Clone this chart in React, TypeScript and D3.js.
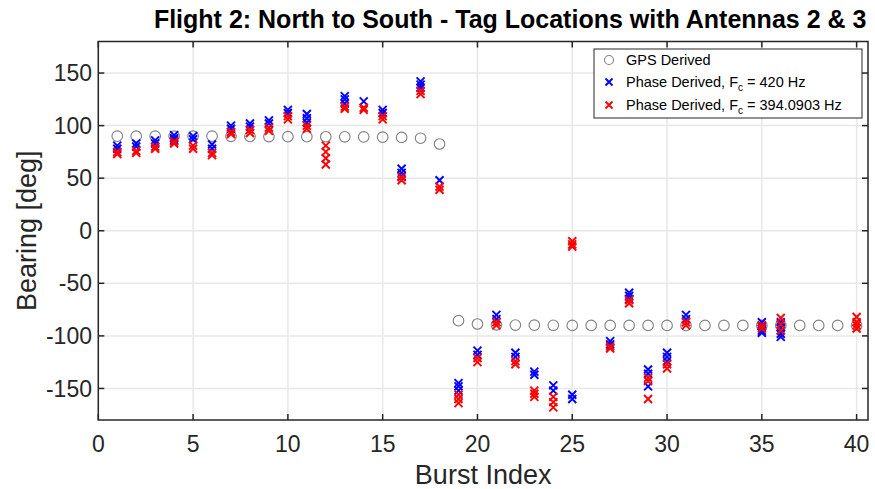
import React from "react";
import * as d3 from "d3";

const TITLE = "Flight 2: North to South - Tag Locations with Antennas 2 & 3";
const X_LABEL = "Burst Index";
const Y_LABEL = "Bearing [deg]";
const xTicks = [0, 5, 10, 15, 20, 25, 30, 35, 40];
const yTicks = [-150, -100, -50, 0, 50, 100, 150];

const bursts = [
  1, 2, 3, 4, 5, 6, 7, 8, 9, 10, 11, 12, 13, 14, 15, 16, 17, 18, 19, 20,
  21, 22, 23, 24, 25, 26, 27, 28, 29, 30, 31, 32, 33, 34, 35, 36, 37, 38, 39, 40,
];

const gpsBearing = [
  90, 90, 90, 90, 90, 90, 89.8, 89.7, 89.6, 89.5, 89.5, 89.4, 89.3, 89.2, 89, 88.8, 88, 82.5, -85.5, -88.7,
  -89.5, -89.7, -89.8, -89.9, -90, -90, -90, -90, -90, -90, -90, -90, -90, -90, -90, -90, -90, -90, -90, -90,
];

// Phase derived bearings, Fc = 420 Hz (several estimates per burst)
const blueBearings: number[][] = [
  [81, 78], [83, 80], [86, 83], [91, 88, 86], [90, 87], [82, 78], [100, 97], [102, 99], [105, 102], [115, 112],
  [111, 107, 103], [], [128, 125, 121], [123], [115, 112], [59, 55, 52], [142, 139, 136], [48], [-145, -148, -152], [-114, -118],
  [-80, -84], [-116, -120], [-134, -137], [-147, -152], [-156, -160], [], [-105, -108], [-59, -62, -65], [-132, -136, -148], [-116, -120, -124],
  [-80, -84], [], [], [], [-87, -91, -95, -97], [-87, -92, -98, -101], [], [], [], [],
];

// Phase derived bearings, Fc = 394.0903 Hz
const redBearings: number[][] = [
  [75, 73], [76, 74], [80, 78], [85, 83], [81, 78], [74, 72], [94, 92], [96, 93], [98, 95], [109, 106],
  [100, 97], [81, 75, 69, 63], [118, 116], [117, 115], [109, 106], [51, 48], [133, 130], [42, 39], [-156, -160, -164], [-121, -125],
  [-87, -90], [-124, -127], [-152, -155, -158], [-158, -163, -168], [-10, -13, -15], [], [-110, -112], [-66, -69], [-140, -143, -160], [-127, -131],
  [-87, -90], [], [], [], [-90, -93], [-83, -89, -95], [], [], [], [-82, -87, -90, -93],
];

const FONT = "'Liberation Sans', Arial, Helvetica, sans-serif";
const AXIS = "#262626";
const GRID = "#e8e8e8";
const BLUE = "#0000ff";
const RED = "#ff0000";
const GRAY = "#7f7f7f";

const W = 875;
const H = 489;
const L = 98.3;
const R = 868;
const T = 41.5;
const B = 420;

function XMark({ cx, cy, color, s = 4 }: { cx: number; cy: number; color: string; s?: number }) {
  return (
    <path
      d={`M${cx - s},${cy - s}L${cx + s},${cy + s}M${cx - s},${cy + s}L${cx + s},${cy - s}`}
      stroke={color}
      strokeWidth={1.9}
      fill="none"
    />
  );
}

export default function App() {
  const x = d3.scaleLinear().domain([0, 40.6]).range([L, R]);
  const y = d3.scaleLinear().domain([-180, 180]).range([B, T]);

  const flat = (arr: number[][]) =>
    arr.flatMap((vals, i) => vals.map((v) => ({ b: bursts[i], v })));
  const bluePts = flat(blueBearings);
  const redPts = flat(redBearings);

  const tickLen = 6;
  const legX = 594;
  const legY = 49;
  const legW = 268;
  const legH = 69;

  return (
    <svg
      width={W}
      height={H}
      style={{ position: "absolute", left: 0, top: 0, background: "#fff" }}
      fontFamily={FONT}
    >
      <rect x={0} y={0} width={W} height={H} fill="#fff" />
      {/* grid */}
      {xTicks.map((t) => (
        <line key={"gx" + t} x1={x(t)} x2={x(t)} y1={T} y2={B} stroke={GRID} strokeWidth={1.5} />
      ))}
      {yTicks.map((t) => (
        <line key={"gy" + t} x1={L} x2={R} y1={y(t)} y2={y(t)} stroke={GRID} strokeWidth={1.5} />
      ))}

      {/* GPS circles */}
      {bursts.map((b, i) => (
        <circle key={"g" + b} cx={x(b)} cy={y(gpsBearing[i])} r={5.3} fill="none" stroke={GRAY} strokeWidth={1.1} />
      ))}
      {bluePts.map((p, i) => (
        <XMark key={"b" + i} cx={x(p.b)} cy={y(p.v)} color={BLUE} />
      ))}
      {redPts.map((p, i) => (
        <XMark key={"r" + i} cx={x(p.b)} cy={y(p.v)} color={RED} />
      ))}

      {/* axes box */}
      <rect x={L} y={T} width={R - L} height={B - T} fill="none" stroke={AXIS} strokeWidth={1.5} />
      {xTicks.map((t) => (
        <g key={"tx" + t}>
          <line x1={x(t)} x2={x(t)} y1={B} y2={B - tickLen} stroke={AXIS} strokeWidth={1.5} />
          <line x1={x(t)} x2={x(t)} y1={T} y2={T + tickLen} stroke={AXIS} strokeWidth={1.5} />
          <text x={x(t)} y={452} textAnchor="middle" fontSize={23} fill={AXIS}>
            {t}
          </text>
        </g>
      ))}
      {yTicks.map((t) => (
        <g key={"ty" + t}>
          <line x1={L} x2={L + tickLen} y1={y(t)} y2={y(t)} stroke={AXIS} strokeWidth={1.5} />
          <line x1={R} x2={R - tickLen} y1={y(t)} y2={y(t)} stroke={AXIS} strokeWidth={1.5} />
          <text x={92} y={y(t)} dy="0.35em" textAnchor="end" fontSize={23} fill={AXIS}>
            {t}
          </text>
        </g>
      ))}

      {/* labels */}
      <text x={(L + R) / 2} y={484} textAnchor="middle" fontSize={27} fill={AXIS}>
        {X_LABEL}
      </text>
      <text
        transform={`translate(36, ${(T + B) / 2}) rotate(-90)`}
        textAnchor="middle"
        fontSize={27}
        fill={AXIS}
      >
        {Y_LABEL}
      </text>
      <text x={(L + R) / 2 + 27} y={28} textAnchor="middle" fontSize={25} fontWeight="bold" fill="#000">
        {TITLE}
      </text>

      {/* legend */}
      <rect x={legX} y={legY} width={legW} height={legH} fill="#fff" stroke={AXIS} strokeWidth={1} />
      <circle cx={609} cy={60} r={4.5} fill="none" stroke={GRAY} strokeWidth={1.1} />
      <text x={626} y={60} dy="0.35em" fontSize={14.5} fill="#000">
        GPS Derived
      </text>
      <XMark cx={609} cy={82} color={BLUE} s={3.5} />
      <text x={626} y={82} dy="0.35em" fontSize={14.5} fill="#000">
        Phase Derived, F<tspan fontSize={10} dy={4}>c</tspan>
        <tspan dy={-4}> = 420 Hz</tspan>
      </text>
      <XMark cx={609} cy={105} color={RED} s={3.5} />
      <text x={626} y={105} dy="0.35em" fontSize={14.5} fill="#000">
        Phase Derived, F<tspan fontSize={10} dy={4}>c</tspan>
        <tspan dy={-4}> = 394.0903 Hz</tspan>
      </text>
    </svg>
  );
}
